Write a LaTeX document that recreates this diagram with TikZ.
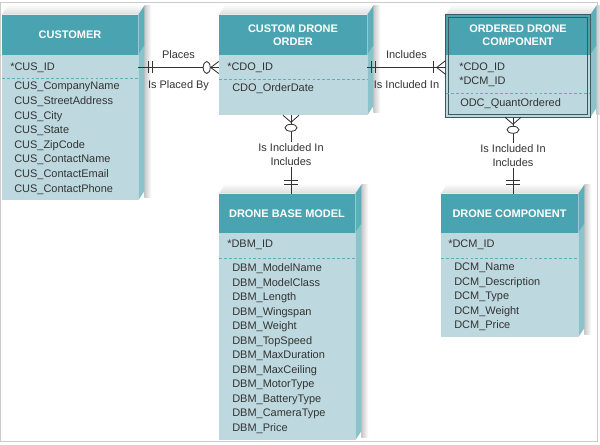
\documentclass[tikz,border=0pt]{standalone}
\usepackage{fontspec}
\setmainfont{Liberation Sans}
\usetikzlibrary{fit}
\definecolor{erhead}{HTML}{4AA3B0}
\definecolor{erbody}{HTML}{BDD9DF}
\definecolor{erheadside}{HTML}{5DAEB9}
\definecolor{erbodyside}{HTML}{8CC3CB}
\definecolor{ertext}{HTML}{333333}
\definecolor{erframe}{HTML}{3D5A60}

\begin{document}
\begin{tikzpicture}[x=0.025cm, y=-0.025cm,
    every node/.style={font=\fontsize{7.8}{9.6}\selectfont, text=ertext},
    headbox/.style={fill=erhead, inner sep=0pt},
    title/.style={inner sep=0pt, align=center, text=white,
      font=\bfseries\fontsize{7.8}{9.6}\selectfont},
    bodybox/.style={fill=erbody, inner sep=0pt},
    attr/.style={anchor=west, inner sep=0pt, text height=5.8pt, text depth=1.6pt},
    sep/.style={draw=erheadside, dashed, dash pattern=on 2pt off 1.5pt, line width=0.5pt},
    rel/.style={draw=ertext, line width=0.6pt},
    rlabel/.style={fill=white, inner sep=1pt, align=center},
    odcline/.style={draw=erframe, line width=0.5pt}]

    \useasboundingbox (0,0) rectangle (600,445);
    \draw[gray!40, line width=0.6pt] (0.5,2) rectangle (597,441.5);

    % entities
    \node[headbox, fit={(2,15) (138,55)}] (cush) {};
    \node[bodybox, fit={(2,55) (138,200)}] (cusb) {};
    \node[headbox, fit={(219,15) (367,55)}] (cdoh) {};
    \node[bodybox, fit={(219,55) (367,115)}] (cdob) {};
    \node[headbox, fit={(446,15) (590,55)}] (odch) {};
    \node[bodybox, fit={(446,55) (590,117)}] (odcb) {};
    \node[headbox, fit={(219,194) (355,233)}] (dbmh) {};
    \node[bodybox, fit={(219,233) (355,440)}] (dbmb) {};
    \node[headbox, fit={(441,194) (578,233)}] (dcmh) {};
    \node[bodybox, fit={(441,233) (578,337)}] (dcmb) {};

    \node[title] (cust) at (cush.center) {CUSTOMER};
    \node[title] (cdot) at (cdoh.center) {CUSTOM DRONE\\ORDER};
    \node[title] (odct) at (odch.center) {ORDERED DRONE\\COMPONENT};
    \node[title] (dbmt) at (dbmh.center) {DRONE BASE MODEL};
    \node[title] (dcmt) at (dcmh.center) {DRONE COMPONENT};

    % 3d faces
    \foreach \h/\b in {cush/cusb, cdoh/cdob, odch/odcb, dbmh/dbmb, dcmh/dcmb} {
      \shade[left color=black!22, right color=white]
        ([shift={(6,-9)}]\h.north east) rectangle ([shift={(13,-3)}]\b.south east);
      \shade[top color=gray!4, bottom color=gray!28]
        (\h.north west) -- ++(6,-9) -- ([shift={(6,-9)}]\h.north east) -- (\h.north east) -- cycle;
      \fill[erheadside] (\h.north east) -- ++(6,-9) -- ([shift={(6,-9)}]\h.south east) -- (\h.south east) -- cycle;
      \fill[erbodyside] (\b.north east) -- ([shift={(6,-9)}]\b.north east)
        -- ([shift={(6,-9)}]\b.south east) -- (\b.south east) -- cycle;
    }
    \draw[odcline] (odch.north west) rectangle (odcb.south east);
    \draw[odcline] ([shift={(2.5,2.5)}]odch.north west) rectangle ([shift={(-2.5,-2.5)}]odcb.south east);

    % attributes
    \node[attr] (cusid) at (10,67.5) {*CUS\_ID};
    \draw[sep] (2,78) -- (138,78);
    \foreach \a [count=\i] in {CUS\_CompanyName, CUS\_StreetAddress, CUS\_City, CUS\_State,
        CUS\_ZipCode, CUS\_ContactName, CUS\_ContactEmail, CUS\_ContactPhone}
      \node[attr] (cus\i) at (14,{87+14.6*(\i-1)}) {\a};

    \node[attr] (cdoid) at (227,67.5) {*CDO\_ID};
    \draw[sep] (219,79) -- (367,79);
    \node[attr] (cdo1) at (232,89) {CDO\_OrderDate};

    \node[attr] (odcid1) at (459,68) {*CDO\_ID};
    \node[attr] (odcid2) at (459,82) {*DCM\_ID};
    \draw[sep] (446,93) -- (590,93);
    \node[attr] (odc1) at (460,104) {ODC\_QuantOrdered};

    \node[attr] (dbmid) at (227,245) {*DBM\_ID};
    \draw[sep] (219,258) -- (355,258);
    \foreach \a [count=\i] in {DBM\_ModelName, DBM\_ModelClass, DBM\_Length, DBM\_Wingspan,
        DBM\_Weight, DBM\_TopSpeed, DBM\_MaxDuration, DBM\_MaxCeiling, DBM\_MotorType,
        DBM\_BatteryType, DBM\_CameraType, DBM\_Price}
      \node[attr] (dbm\i) at (232,{268.5+14.55*(\i-1)}) {\a};

    \node[attr] (dcmid) at (448,245) {*DCM\_ID};
    \draw[sep] (441,258) -- (578,258);
    \foreach \a [count=\i] in {DCM\_Name, DCM\_Description, DCM\_Type, DCM\_Weight, DCM\_Price}
      \node[attr] (dcm\i) at (454,{268+14.5*(\i-1)}) {\a};

    % relationships
    \coordinate (r1a) at (cusb.east |- cusid);
    \coordinate (r1b) at (cdob.west |- cusid);
    \draw[rel] (r1a) -- (r1b)
      node[midway, above=3pt] {Places}
      node[midway, below=6pt] {Is Placed By};
    \draw[rel] ([shift={(10,-6)}]r1a) -- ++(0,12) ([shift={(14,-6)}]r1a) -- ++(0,12);
    \draw[rel] ([shift={(-8,0)}]r1b) -- ++(8,-6) ([shift={(-8,0)}]r1b) -- ++(8,6);
    \draw[rel, fill=white] ([shift={(-12,0)}]r1b) ellipse [x radius=3.5, y radius=6];

    \coordinate (r2a) at (cdob.east |- cdoid);
    \coordinate (r2b) at (odcb.west |- cdoid);
    \draw[rel] (r2a) -- (r2b)
      node[midway, above=3pt] {Includes}
      node[midway, below=6pt] {Is Included In};
    \draw[rel] ([shift={(4,-6)}]r2a) -- ++(0,12) ([shift={(8,-6)}]r2a) -- ++(0,12);
    \draw[rel] ([shift={(-12,-6)}]r2b) -- ++(0,12);
    \draw[rel] ([shift={(-9,0)}]r2b) -- ++(9,-7) ([shift={(-9,0)}]r2b) -- ++(9,7);

    \coordinate (r3a) at ([shift={(-2,0)}]cdob.south);
    \coordinate (r3b) at (r3a |- dbmh.north);
    \draw[rel] (r3a) -- (r3b)
      node[rlabel, pos=0.5] (r3l) {Is Included In\\Includes};
    \draw[rel] ([shift={(0,7)}]r3a) -- ++(-8,-7) ([shift={(0,7)}]r3a) -- ++(8,-7);
    \draw[rel, fill=white] ([shift={(0,12.5)}]r3a) ellipse [x radius=6, y radius=3.5];
    \draw[rel] ([shift={(-7,-13)}]r3b) -- ++(14,0) ([shift={(-7,-9)}]r3b) -- ++(14,0);

    \coordinate (r4a) at ([shift={(-5,0)}]odcb.south);
    \coordinate (r4b) at (r4a |- dcmh.north);
    \draw[rel] (r4a) -- (r4b)
      node[rlabel, pos=0.5] (r4l) {Is Included In\\Includes};
    \draw[rel] ([shift={(0,7)}]r4a) -- ++(-8,-7) ([shift={(0,7)}]r4a) -- ++(8,-7);
    \draw[rel, fill=white] ([shift={(0,12.5)}]r4a) ellipse [x radius=6, y radius=3.5];
    \draw[rel] ([shift={(-7,-13)}]r4b) -- ++(14,0) ([shift={(-7,-9)}]r4b) -- ++(14,0);
\end{tikzpicture}
\end{document}
